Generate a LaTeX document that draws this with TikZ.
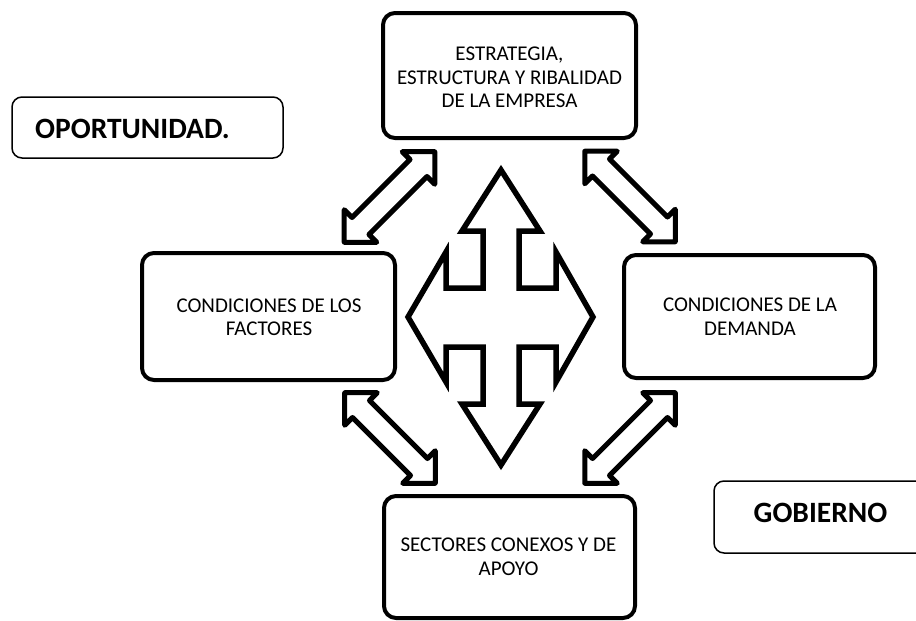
\documentclass[tikz,border=0pt]{standalone}
\usepackage{fontspec}
\setmainfont{Carlito}
\begin{document}
\begin{tikzpicture}[x=1pt,y=-1pt,
  box/.style={draw, line width=4pt, rounded corners=12pt},
  boxtext/.style={align=center, font=\fontsize{21}{23.5}\selectfont, inner sep=0pt},
  smallbox/.style={draw, line width=1.5pt, rounded corners=10pt},
  bigtext/.style={font=\fontsize{29.5}{34}\selectfont\bfseries, inner sep=0pt},
  cross/.style={draw, line width=5.5pt, line join=miter},
  darr/.style={draw, line width=5pt, line join=round},
  dblarrow/.pic={\draw[darr] (-64,0) -- (-41,23) -- (-41,12) -- (41,12) -- (41,23) -- (64,0)
      -- (41,-23) -- (41,-12) -- (-41,-12) -- (-41,-23) -- cycle;}
]
\useasboundingbox (0,0) rectangle (916,621);

% main boxes
\node[box, minimum width=253pt, minimum height=125pt] (top) at (509.5,75.5) {};
\node[boxtext] (toptext) at (509.5,77.5) {ESTRATEGIA,\\ESTRUCTURA Y RIBALIDAD\\DE LA EMPRESA};
\node[box, minimum width=253pt, minimum height=127pt] (left) at (268.5,316.5) {};
\node[boxtext] (lefttext) at (269,317.5) {CONDICIONES DE LOS\\FACTORES};
\node[box, minimum width=251pt, minimum height=123pt] (right) at (749.5,316.5) {};
\node[boxtext] (righttext) at (750,316.5) {CONDICIONES DE LA\\DEMANDA};
\node[box, minimum width=251pt, minimum height=122pt] (bottom) at (509.5,557) {};
\node[boxtext] (bottomtext) at (508.5,557) {SECTORES CONEXOS Y DE\\APOYO};

% side labels
\node[smallbox, minimum width=271pt, minimum height=61pt] (opbox) at (147.5,127.5) {};
\node[bigtext, anchor=west] (op) at (35,129) {OPORTUNIDAD.};
\draw[smallbox] (916,481) -- (714,481) -- (714,553) -- (916,553);
\node[bigtext] (gob) at (820.5,513) {GOBIERNO};

% diagonal double arrows
\pic (tl) [rotate=45] at (389.5,197) {dblarrow};
\pic (tr) [rotate=-45] at (630,196.5) {dblarrow};
\pic (bl) [rotate=-45] at (390,438) {dblarrow};
\pic (br) [rotate=45] at (630,438) {dblarrow};

% central four-way arrow
\coordinate (c) at (501,317);
\draw[cross] (501,170) -- (540,231) -- (519,231) -- (519,288) -- (556,288) -- (556,252)
  -- (593,317) -- (556,382) -- (556,347) -- (519,347) -- (519,404) -- (540,404)
  -- (501,465) -- (462,404) -- (483,404) -- (483,347) -- (446,347) -- (446,382)
  -- (408,317) -- (446,252) -- (446,288) -- (483,288) -- (483,231) -- (462,231) -- cycle;
\end{tikzpicture}
\end{document}
